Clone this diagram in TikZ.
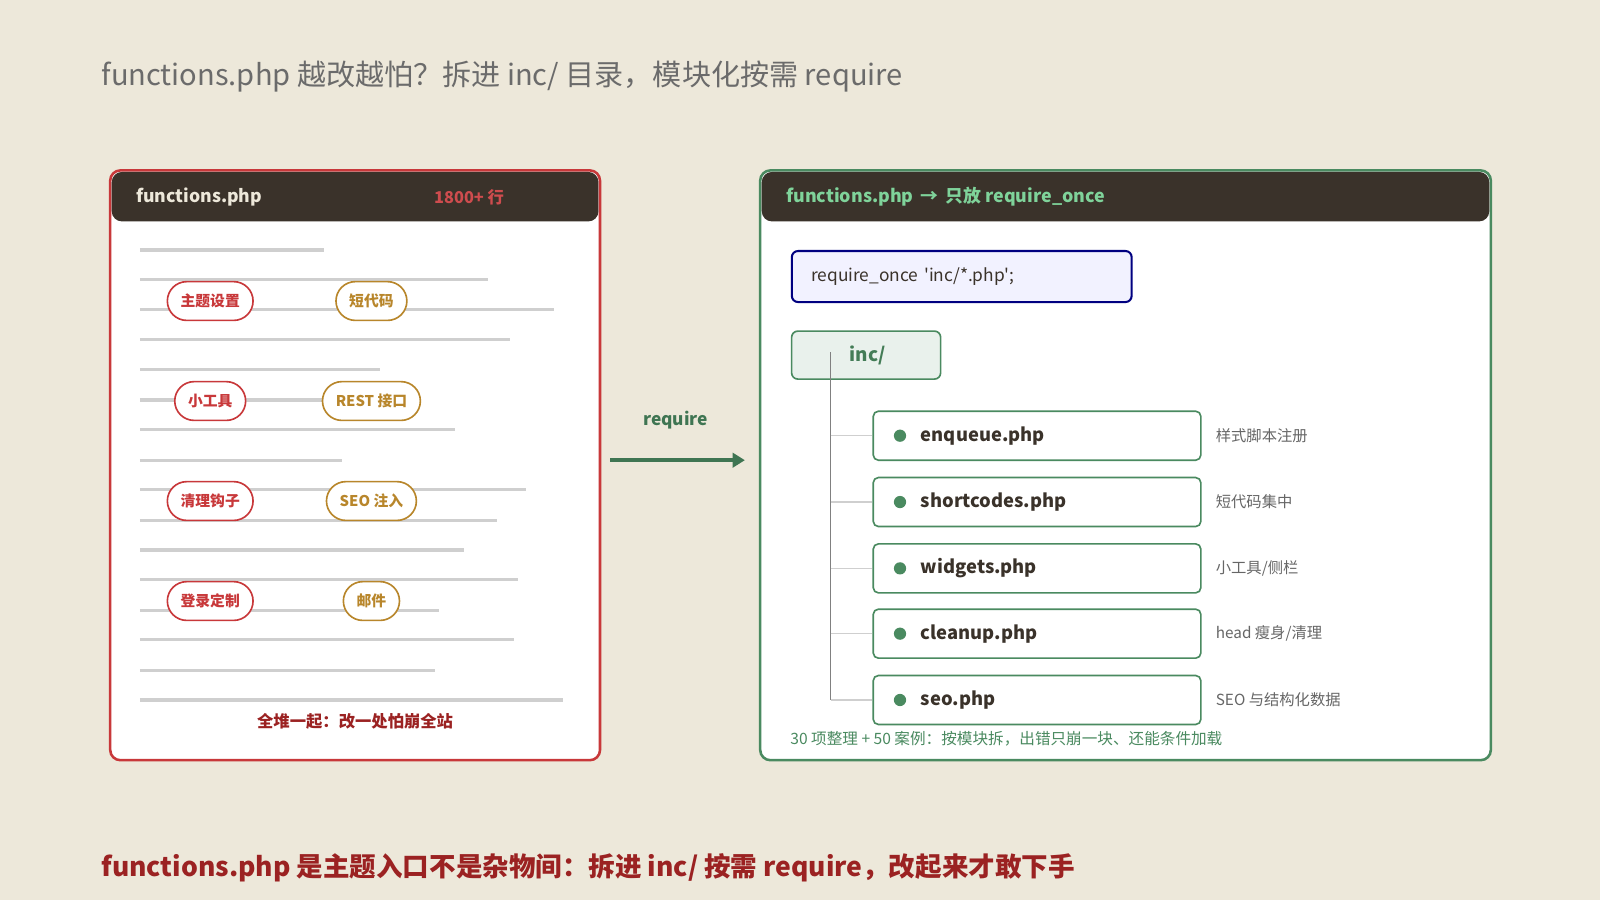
\documentclass[tikz,border=0pt]{standalone}
\usepackage{fontspec}
\usetikzlibrary{arrows.meta}
\setmainfont{Noto Sans CJK SC}
\newfontfamily\codefont{Noto Sans CJK SC}
\definecolor{bg}{HTML}{EDE8DA}
\definecolor{hdr}{HTML}{3A322A}
\definecolor{red1}{HTML}{C8383A}
\definecolor{gold}{HTML}{B8862B}
\definecolor{grn}{HTML}{4A8A60}
\definecolor{lgrn}{HTML}{7FD39A}
\definecolor{dred}{HTML}{9B2222}
\definecolor{gl}{HTML}{CFCFCF}
\begin{document}
\begin{tikzpicture}[x=1pt,y=-1pt,
 pillr/.style={draw=red1,line width=1.6pt,fill=white,rounded corners=19pt,minimum height=38pt,text=red1,font=\fontsize{14.5}{14.5}\selectfont\bfseries,inner xsep=13pt},
 pillg/.style={pillr,draw=gold,text=gold},
 filebox/.style={draw=grn,line width=1.6pt,fill=white,rounded corners=5pt,minimum width=321pt,minimum height=48pt},
 fname/.style={anchor=west,font=\fontsize{18}{18}\selectfont\bfseries,text=hdr},
 fdesc/.style={anchor=west,font=\fontsize{15}{15}\selectfont,text=black!60},
 gline/.style={gl,line width=3pt}]
\fill[bg] (0,0) rectangle (1568,882);
\useasboundingbox (0,0) rectangle (1568,882);
\node[anchor=west,text=black!58,font=\fontsize{28.5}{28.5}\selectfont] (title) at (96,75) {functions.php 越改越怕？拆进 inc/ 目录，模块化按需 require};
% left panel
\draw[red1,line width=2.5pt,fill=white,rounded corners=10pt] (108,167) rectangle (588,745);
\fill[hdr,rounded corners=10pt] (109.5,168.5) rectangle (586.5,217);
\node[anchor=west,text=bg,font=\fontsize{17.3}{17.3}\selectfont\bfseries] (lh) at (130,193) {functions.php};
\node[anchor=west,text=red1!90!white,font=\fontsize{16}{16}\selectfont\bfseries] (lc) at (422,193) {1800+ 行};
\foreach \y/\e in {245/318,274/478,303/543,333/500,362/372,392/330,421/446,451/335,480/515,510/487,539/455,568/508,598/430,627/504,657/426,686/552}
  \draw[gline] (137,\y) -- (\e,\y);
\node[pillr] (p1) at (206,295) {主题设置};
\node[pillg] (p2) at (364,295) {短代码};
\node[pillr] (p3) at (206,393) {小工具};
\node[pillg] (p4) at (364,393) {REST 接口};
\node[pillr] (p5) at (206,491) {清理钩子};
\node[pillg] (p6) at (364,491) {SEO 注入};
\node[pillr] (p7) at (206,589) {登录定制};
\node[pillg] (p8) at (364,589) {邮件};
\node[text=dred,font=\fontsize{16}{16}\selectfont\bfseries] (lf) at (348,707) {全堆一起：改一处怕崩全站};
% arrow
\coordinate (a1) at (598,451); \coordinate (a2) at (730,451);
\draw[grn!85!black,line width=4pt,-{Triangle[length=12pt,width=14pt]}] (a1) -- (a2);
\node[text=grn!85!black,font=\fontsize{17}{17}\selectfont\bfseries] (rq) at (662,412) {require};
% right panel
\draw[grn,line width=2.5pt,fill=white,rounded corners=10pt] (745,167) rectangle (1461,745);
\fill[hdr,rounded corners=10pt] (746.5,168.5) rectangle (1459.5,217);
\node[anchor=west,text=lgrn,font=\fontsize{17.5}{17.5}\selectfont\bfseries] (rh) at (767,193) {functions.php \,→\, 只放 require\_once};
\node[draw=blue!50!black,line width=2pt,fill=blue!5!white,rounded corners=6pt,minimum width=333pt,minimum height=50pt,anchor=west,text=hdr,font=\codefont\fontsize{17}{17}\selectfont,inner xsep=19pt,align=left,text width=295pt] (code) at (775,271) {require\_once 'inc/*.php';};
\node[draw=grn,line width=1.6pt,fill=grn!12!white,rounded corners=6pt,minimum width=146pt,minimum height=47pt,anchor=west] (inc) at (775,348) {};
\node[anchor=west,text=grn!90!black,font=\fontsize{18.5}{18.5}\selectfont\bfseries] (inct) at (829,348) {inc/};
\coordinate (t0) at (814,345); \coordinate (t1) at (814,686);
\draw[black!50,line width=1.5pt] (t0) -- (t1);
\foreach \n/\y/\f/\d in {f1/427/{enqueue.php}/{样式脚本注册},f2/492/{shortcodes.php}/{短代码集中},f3/557/{widgets.php}/{小工具/侧栏},f4/621/{cleanup.php}/{head 瘦身/清理},f5/686/{seo.php}/{SEO 与结构化数据}}{
  \coordinate (b\n) at (814,\y);
  \node[filebox,anchor=west] (\n) at (855,\y) {};
  \draw[gl,line width=1.5pt] (b\n) -- (\n.west);
  \fill[grn] (882,\y) circle (6pt);
  \node[fname] (\n t) at (899,\y) {\f};
  \node[fdesc] (\n d) at (1188,\y) {\d};
}
\node[anchor=west,text=grn,font=\fontsize{15.3}{15.3}\selectfont] (rf) at (771,724) {30 项整理 + 50 案例：按模块拆，出错只崩一块、还能条件加载};
\node[anchor=west,text=dred,font=\fontsize{26}{26}\selectfont\bfseries] (bt) at (96,850) {functions.php 是主题入口不是杂物间：拆进 inc/ 按需 require，改起来才敢下手};
\end{tikzpicture}
\end{document}
